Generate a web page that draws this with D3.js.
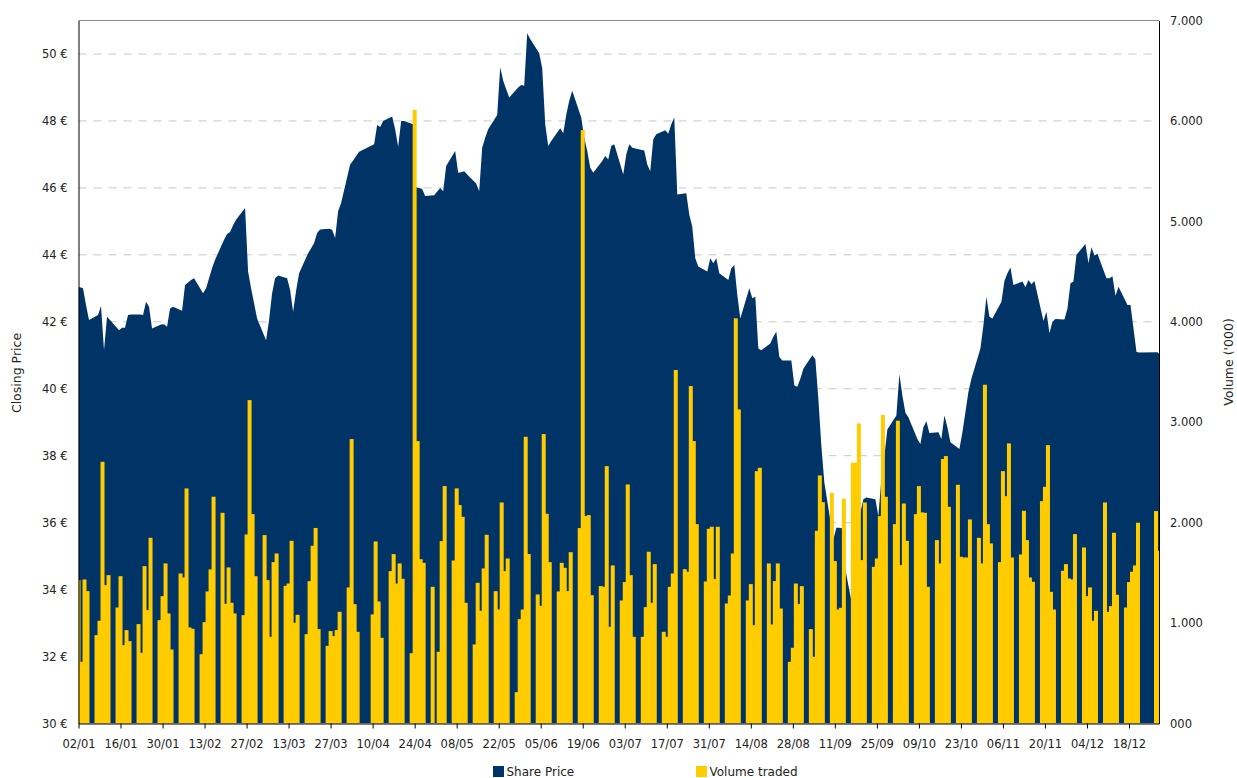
<!DOCTYPE html>
<html>
<head>
<meta charset="utf-8">
<script src="https://cdn.jsdelivr.net/npm/d3@7"></script>
<style>
  body { margin: 0; background: #fff; }
  text { font-family: "DejaVu Sans", Verdana, sans-serif; fill: #222; }
</style>
</head>
<body>
<div id="chart"></div>
<script>
// trading calendar 2007 (weekends + market holidays skipped)
var holidays = ["2007-04-06", "2007-04-09", "2007-05-01", "2007-12-24", "2007-12-25", "2007-12-26"];

// closing price, one line per week
var closePrice = [
  43.03, 43.0, 42.5, 42.05,
  42.2, 42.47, 41.15, 42.15, 42.05,
  41.75, 41.82, 41.82, 42.2, 42.22,
  42.22, 42.2, 42.6, 42.45, 41.8,
  41.92, 41.93, 41.85, 42.4, 42.45,
  42.33, 43.1, 43.17, 43.25, 43.3,
  42.85, 43.0, 43.3, 43.6, 43.85,
  44.45, 44.62, 44.68, 44.88, 45.05,
  45.4, 43.5, 43.0, 42.55, 42.1,
  41.45, 42.05, 42.85, 43.3, 43.38,
  43.3, 42.95, 42.3, 42.93, 43.45,
  44.05, 44.2, 44.35, 44.65, 44.76,
  44.78, 44.75, 44.5, 45.3, 45.55,
  46.7, 46.82, 46.95, 47.08,
  47.3, 47.88, 47.82, 48.0,
  48.13, 47.75, 47.23, 48.0, 48.0,
  47.9, 46.02, 46.0, 45.97, 45.76,
  45.78, 46.0, 45.9, 46.65,
  47.1, 46.45, 46.47, 46.5, 46.4,
  46.13, 45.9, 47.2, 47.5, 47.75,
  48.18, 49.6, 49.2, 48.95, 48.7,
  49.0, 49.07, 49.05, 50.62, 50.45,
  50.02, 49.57, 47.9, 47.25, 47.4,
  47.78, 47.63, 48.18, 48.6, 48.9,
  48.1, 47.5, 47.1, 46.6, 46.45,
  46.8, 46.95, 46.85, 47.25, 47.3,
  46.4, 47.0, 47.3, 47.2, 47.18,
  47.12, 46.7, 46.5, 47.45, 47.6,
  47.72, 47.62, 47.9, 48.1, 45.8,
  45.84, 45.2, 44.84, 43.9, 43.65,
  43.5, 43.9, 43.75, 43.9, 43.45,
  43.25, 43.6, 43.7, 42.8, 42.1,
  43.0, 42.7, 42.75, 41.2, 41.15,
  41.35, 41.55, 41.7, 40.95, 40.84,
  40.84, 40.1, 40.06, 40.3, 40.6,
  41.0, 40.88, 39.7, 38.3, 37.2,
  35.5, 35.85, 35.85, 35.83, 34.6,
  33.2, 35.0, 36.3, 36.7, 36.75,
  36.7, 36.2, 37.3, 38.0, 38.78,
  39.2, 40.43, 39.8, 39.28, 39.15,
  38.5, 38.35, 38.85, 39.03, 38.68,
  38.7, 38.5, 39.2, 38.85, 38.4,
  38.2, 38.7, 39.3, 39.9, 40.3,
  41.2, 41.9, 42.75, 42.15, 42.1,
  42.6, 43.22, 43.45, 43.62, 43.1,
  43.2, 43.03, 43.25, 43.12, 43.22,
  42.02, 42.3, 41.66, 42.0, 42.08,
  42.07, 42.4, 43.15, 43.2, 44.0,
  44.32, 43.75, 44.23, 43.98, 44.03,
  43.3, 43.3, 43.36, 42.78, 43.05,
  42.5, 42.5, 41.8, 41.1, 41.08,
  41.09, 41.0
];

// volume traded ('000), one line per week
var volume = [
  1428, 614, 1434, 1318,
  880, 1023, 2606, 1378, 1477,
  1155, 1467, 780, 930, 820,
  990, 704, 1567, 1129, 1849,
  1029, 1268, 1594, 1096, 737,
  1494, 1454, 2341, 956, 943,
  690, 1009, 1315, 1534, 2258,
  2098, 1192, 1554, 1202, 1096,
  1079, 1882, 3220, 2085, 1467,
  1876, 1428, 863, 1607, 1693,
  1371, 1394, 1819, 1003, 1082,
  890, 1417, 1770, 1947, 940,
  773, 920, 870, 930, 1112,
  1355, 2832, 1189, 913,
  1086, 1813, 1215, 853,
  1517, 1687, 1394, 1594, 1441,
  700, 6110, 2812, 1636, 1600,
  1361, 714, 1816, 2364,
  1623, 2341, 2175, 2058, 1202,
  787, 1401, 1122, 1544, 1879,
  1318, 1135, 2201, 1517, 1643,
  312, 1039, 1135, 2855, 1687,
  1285, 1172, 2882, 2088, 1607,
  1315, 1600, 1550, 1318, 1706,
  1946, 5909, 2065, 2075, 1278,
  1368, 1361, 2563, 963, 1574,
  1225, 1408, 2380, 1477, 863,
  863, 1159, 1710, 1202, 1587,
  913, 863, 1361, 1494, 3520,
  1537, 1511, 3360, 2812, 1985,
  1414, 1939, 1959, 1438, 1959,
  1195, 1275, 1693, 4035, 3127,
  1225, 1388, 979, 2513, 2546,
  1594, 986, 1418, 1594, 1145,
  614, 754, 1394, 1189, 1368,
  940, 664, 1919, 2470, 2204,
  2297, 1617, 1135, 1152, 2238,
  2596, 2596, 2988, 1627, 2201,
  1560, 1643, 2065, 3071, 2257,
  1985, 3015, 1577, 2191, 1819,
  2085, 2364, 2102, 2098, 1361,
  1826, 1594, 2633, 2663, 2158,
  2377, 1660, 1653, 1653, 2032,
  1849, 1594, 3373, 1985, 1793,
  1607, 2513, 2264, 2789, 1653,
  1683, 2118, 1826, 1454, 1411,
  2214, 2357, 2772, 1311, 1135,
  1521, 1587, 1444, 1434, 1886,
  1753, 1268, 1355, 1023, 1122,
  2201, 1112, 1169, 1899, 1282,
  1155, 1408, 1511, 1574, 1999,
  2115, 1720
];

// axis ticks
var dateTicks = ["02/01", "16/01", "30/01", "13/02", "27/02", "13/03", "27/03", "10/04", "24/04",
  "08/05", "22/05", "05/06", "19/06", "03/07", "17/07", "31/07", "14/08", "28/08", "11/09",
  "25/09", "09/10", "23/10", "06/11", "20/11", "04/12", "18/12"];
var priceTicks = [30, 32, 34, 36, 38, 40, 42, 44, 46, 48, 50];
var volumeTicks = [0, 1000, 2000, 3000, 4000, 5000, 6000, 7000];
var volumeTickLabels = ["000", "1.000", "2.000", "3.000", "4.000", "5.000", "6.000", "7.000"];

var navy = "#003366";
var yellow = "#ffcc00";

//define svg
var svgWidth = 1237;
var svgHeight = 778;
var margin = { top: 20.5, right: 78, bottom: 54.5, left: 78.5 };
var chartWidth = svgWidth - margin.left - margin.right;
var chartHeight = svgHeight - margin.top - margin.bottom;

var svg = d3.select("#chart")
  .append("svg")
  .attr("width", svgWidth)
  .attr("height", svgHeight);

var chartGroup = svg.append("g")
  .attr("transform", `translate(${margin.left}, ${margin.top})`);

svg.append("defs").append("clipPath")
  .attr("id", "plot-clip")
  .append("rect")
  .attr("x", 0).attr("y", 0)
  .attr("width", chartWidth).attr("height", chartHeight);

// trading days
var fmtKey = d3.timeFormat("%Y-%m-%d");
var tradingDays = d3.timeDays(new Date(2007, 0, 2), new Date(2007, 11, 29))
  .filter(d => d.getDay() % 6 !== 0 && holidays.indexOf(fmtKey(d)) < 0);

var parseTick = d3.timeParse("%d/%m/%Y");
var tickDates = dateTicks.map(t => parseTick(t + "/2007"));

// scales
var xScale = d3.scaleTime()
  .domain([new Date(2007, 0, 2), new Date(2007, 11, 28)])
  .range([0, chartWidth]);
var yPrice = d3.scaleLinear().domain([30, 51]).range([chartHeight, 0]);
var yVolume = d3.scaleLinear().domain([0, 7000]).range([chartHeight, 0]);

// gridlines
chartGroup.append("g")
  .selectAll("line")
  .data(priceTicks.filter(t => t > 30))
  .enter()
  .append("line")
  .attr("x1", 0)
  .attr("x2", chartWidth)
  .attr("y1", d => yPrice(d))
  .attr("y2", d => yPrice(d))
  .attr("stroke", "#c8c8c8")
  .attr("stroke-width", 1)
  .attr("stroke-dasharray", "8,7");

// share price area (points sit half a day right of the bar centres)
var areaData = [{ date: xScale.domain()[0], price: closePrice[0] }]
  .concat(tradingDays.map((d, i) => ({ date: d3.timeHour.offset(d, 12), price: closePrice[i] })));

var priceArea = d3.area()
  .x(d => xScale(d.date))
  .y0(yPrice(30))
  .y1(d => yPrice(d.price));

var plot = chartGroup.append("g").attr("clip-path", "url(#plot-clip)");

plot.append("path")
  .datum(areaData)
  .attr("d", priceArea)
  .attr("fill", navy);

// volume bars
plot.selectAll("rect.vol")
  .data(tradingDays.map((d, i) => ({ date: d, vol: volume[i] })))
  .enter()
  .append("rect")
  .attr("class", "vol")
  .attr("x", d => xScale(d.date) - 2)
  .attr("width", 4)
  .attr("y", d => yVolume(d.vol))
  .attr("height", d => chartHeight - yVolume(d.vol))
  .attr("fill", yellow);

// axes
var bottomAxis = d3.axisBottom(xScale)
  .tickValues(tickDates)
  .tickFormat(d3.timeFormat("%d/%m"))
  .tickSize(5)
  .tickSizeOuter(0)
  .tickPadding(11);

var leftAxis = d3.axisLeft(yPrice)
  .tickValues(priceTicks)
  .tickFormat(d => d + " €")
  .tickSize(0)
  .tickPadding(11);

var rightAxis = d3.axisRight(yVolume)
  .tickValues(volumeTicks)
  .tickFormat((d, i) => volumeTickLabels[i])
  .tickSize(0)
  .tickPadding(11);

var xAxis = chartGroup.append("g")
  .attr("transform", `translate(0, ${chartHeight})`)
  .call(bottomAxis);

var yAxis = chartGroup.append("g").call(leftAxis);

var y2Axis = chartGroup.append("g")
  .attr("transform", `translate(${chartWidth}, 0)`)
  .call(rightAxis);

[xAxis, yAxis, y2Axis].forEach(function (ax) {
  ax.selectAll("text")
    .style("font-family", "'DejaVu Sans', Verdana, sans-serif")
    .style("font-size", "11.5px")
    .attr("fill", "#222");
  ax.selectAll("line").attr("stroke", "#000");
  ax.select(".domain").attr("stroke", "#000");
});

// top border
chartGroup.append("line")
  .attr("x1", 0).attr("x2", chartWidth)
  .attr("y1", 0).attr("y2", 0)
  .attr("stroke", "#8c8c8c")
  .attr("stroke-width", 1);

// axis titles
svg.append("text")
  .attr("transform", "translate(21, 373) rotate(-90)")
  .attr("text-anchor", "middle")
  .style("font-size", "12.5px")
  .text("Closing Price");

svg.append("text")
  .attr("transform", "translate(1233, 362) rotate(-90)")
  .attr("text-anchor", "middle")
  .style("font-size", "12.5px")
  .text("Volume ('000)");

// legend
var legendItems = [
  { label: "Share Price", color: navy, x: 493 },
  { label: "Volume traded", color: yellow, x: 696 }
];
var legend = svg.append("g");
legendItems.forEach(function (item) {
  legend.append("rect")
    .attr("x", item.x)
    .attr("y", 766)
    .attr("width", 11)
    .attr("height", 11)
    .attr("fill", item.color);
  legend.append("text")
    .attr("x", item.x + 13.5)
    .attr("y", 776)
    .style("font-size", "12px")
    .text(item.label);
});
</script>
</body>
</html>
